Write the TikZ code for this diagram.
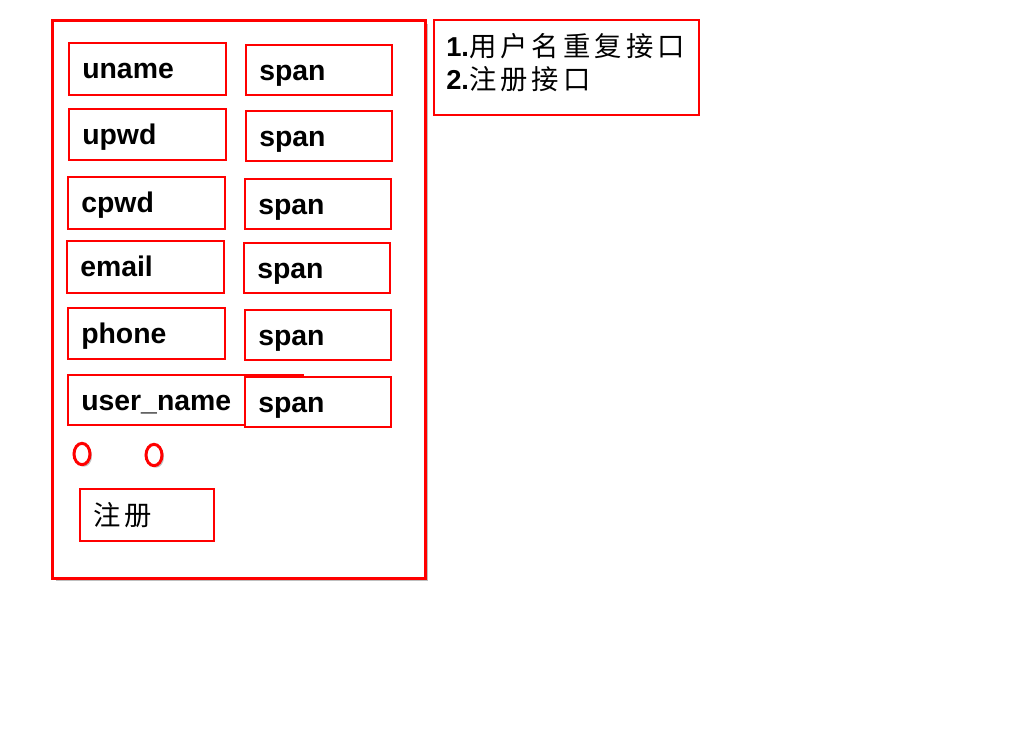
\documentclass[tikz,border=0pt]{standalone}
\usepackage{fontspec}
\setmainfont{Liberation Sans}
\newfontfamily\cjk[LetterSpace=15]{Noto Sans CJK SC}
\usetikzlibrary{fit,shapes.geometric,shadows}
\definecolor{fred}{RGB}{255,0,0}
\tikzset{
  x=0.75pt, y=-0.75pt,
  box/.style={draw=fred, line width=1.5pt, inner sep=0pt, fill=white},
  frame/.style={draw=fred, line width=2.25pt, inner sep=0pt, fill=white,
    drop shadow={shadow xshift=2.5pt, shadow yshift=-2.5pt, opacity=0.5, fill=gray}},
  lbl/.style={anchor=base west, inner sep=0pt, font=\fontsize{21.3}{24}\selectfont\bfseries},
  circ/.style={ellipse, draw=fred, line width=2.25pt, inner sep=0pt, fill=white,
    minimum width=12pt, minimum height=16pt,
    drop shadow={shadow xshift=1.5pt, shadow yshift=-1.5pt, opacity=0.5, fill=gray}},
  cn/.style={anchor=west, inner sep=0pt, font=\fontsize{20.5}{24}\selectfont\cjk},
}
\begin{document}
\begin{tikzpicture}
\useasboundingbox (0,0) rectangle (1024,728);
\node[frame, fit={(52.5,20.5) (425,578)}] (frm) {};
% left boxes
\node[box, fit={(69,43) (226,95)}] (l1) {};
\node[box, fit={(69,109) (226,160)}] (l2) {};
\node[box, fit={(68,177) (225,229)}] (l3) {};
\node[box, fit={(67,241) (224,293)}] (l4) {};
\node[box, fit={(68,308) (225,359)}] (l5) {};
\node[box, fit={(68,375) (303,425)}] (l6) {};
% span boxes
\node[box, fit={(246,45) (392,95)}] (s1) {};
\node[box, fit={(246,111) (392,161)}] (s2) {};
\node[box, fit={(245,179) (391,229)}] (s3) {};
\node[box, fit={(244,243) (390,293)}] (s4) {};
\node[box, fit={(245,310) (391,360)}] (s5) {};
\node[box, fit={(245,377) (391,427)}] (s6) {};
% labels
\node[lbl] (t1) at (82,78) {uname};
\node[lbl] (t2) at (82,144) {upwd};
\node[lbl] (t3) at (81,212) {cpwd};
\node[lbl] (t4) at (80,276) {email};
\node[lbl] (t5) at (81,343) {phone};
\node[lbl] (t6) at (81,410) {user\_name};
\node[lbl] (u1) at (259,80) {span};
\node[lbl] (u2) at (259,146) {span};
\node[lbl] (u3) at (258,214) {span};
\node[lbl] (u4) at (257,278) {span};
\node[lbl] (u5) at (258,345) {span};
\node[lbl] (u6) at (258,412) {span};
% radios
\node[circ] (r1) at (82,454) {};
\node[circ] (r2) at (154,455) {};
% register button
\node[box, fit={(80,489) (214,541)}] (reg) {};
\node[cn] (regt) at (93,515) {注册};
% note box
\node[box, fit={(434,20) (699,115)}] (note) {};
\node[cn] (n1) at (446,46) {{\bfseries\rmfamily 1.}用户名重复接口};
\node[cn] (n2) at (446,79) {{\bfseries\rmfamily 2.}注册接口};
\end{tikzpicture}
\end{document}
